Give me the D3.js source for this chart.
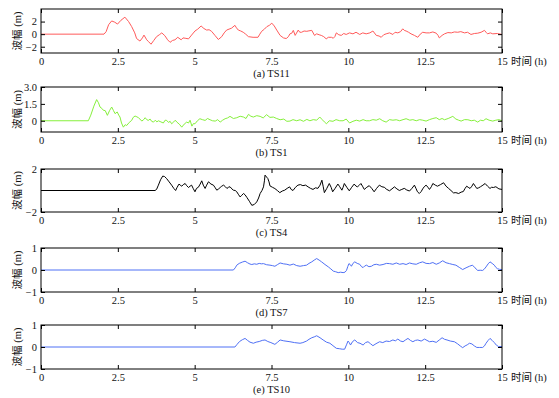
<!DOCTYPE html>
<html>
<head>
<meta charset="utf-8">
<script src="https://cdn.jsdelivr.net/npm/d3@7"></script>
<style>
    body { margin: 0; background: #fff; }
    text { font-family: "Liberation Serif", "Times New Roman", "Noto Sans CJK SC", serif; }
</style>
</head>
<body>
<svg id="chart" width="559" height="398"></svg>
<script>
// time axis ticks (h)
var timeTicks = [0, 2.5, 5, 7.5, 10, 12.5, 15];

// wave amplitude (m) vs time (h)
var ts11 = [[0,0],[2.05,0],[2.12,0.4],[2.2,1.5],[2.3,2.1],[2.4,1.9],[2.49,1.6],[2.6,2.2],[2.73,2.7],[2.85,2.0],
    [2.95,1.2],[3.05,0.2],[3.11,-0.7],[3.22,-1.1],[3.3,-0.6],[3.35,-0.15],[3.44,-0.9],[3.5,-1.2],[3.58,-1.6],
    [3.67,-1.0],[3.76,-0.4],[3.85,-0.1],[3.93,0.2],[4.03,-0.25],[4.12,-0.9],[4.2,-1.3],[4.28,-1.0],[4.36,-0.9],
    [4.45,-0.5],[4.56,-0.9],[4.62,-0.6],[4.69,-0.65],[4.8,-0.75],[4.9,-0.15],[5.01,0.5],[5.1,0.8],[5.21,1.3],
    [5.3,0.9],[5.39,0.65],[5.47,0.7],[5.55,0.45],[5.66,-0.2],[5.77,-0.85],[5.88,-0.4],[5.96,0.2],[6.04,0.65],
    [6.12,0.8],[6.2,0.95],[6.31,1.4],[6.36,1.0],[6.42,0.65],[6.5,0.5],[6.58,0.3],[6.66,0.0],[6.75,-0.4],
    [6.9,-0.5],[7.06,-0.5],[7.12,0.0],[7.18,0.45],[7.27,0.8],[7.35,1.2],[7.43,1.4],[7.51,1.75],[7.59,1.3],
    [7.67,0.65],[7.78,-0.2],[7.89,-0.6],[7.98,-0.7],[8.05,-0.4],[8.1,0.05],[8.16,0.15],[8.21,0.6],[8.27,-0.2],
    [8.37,0.65],[8.42,0.3],[8.48,0.3],[8.56,0.5],[8.65,0.45],[8.69,0.5],[8.81,0.6],[8.9,-0.2],[8.97,0.05],
    [9.05,-0.1],[9.12,-0.2],[9.2,-0.4],[9.28,-0.75],[9.35,-0.5],[9.45,-0.5],[9.51,-0.65],[9.56,-0.4],[9.61,0.2],
    [9.69,-0.1],[9.77,-0.2],[9.85,0.1],[9.93,-0.05],[10.04,0.2],[10.15,0.05],[10.25,0.3],[10.37,-0.05],
    [10.47,0.2],[10.58,0.05],[10.7,0.2],[10.8,0.5],[10.91,-0.2],[11.0,-0.3],[11.07,-0.5],[11.15,-0.1],
    [11.23,0.05],[11.34,0.2],[11.45,-0.05],[11.52,0.3],[11.61,0.2],[11.7,0.4],[11.77,0.85],[11.82,0.6],
    [11.88,0.5],[11.96,0.3],[12.04,0.05],[12.15,-0.2],[12.26,-0.5],[12.34,0.0],[12.42,0.3],[12.53,0.2],
    [12.64,0.2],[12.75,0.35],[12.86,0.15],[12.92,-0.2],[12.96,-0.6],[13.05,-0.2],[13.13,0.05],[13.24,0.25],
    [13.35,0.2],[13.45,0.35],[13.56,0.3],[13.66,0.4],[13.78,0.2],[13.88,0.3],[13.99,-0.05],[14.1,0.1],
    [14.21,0.15],[14.32,0.3],[14.43,0.6],[14.48,0.3],[14.53,0.05],[14.62,0.2],[14.7,0.05],[14.85,0.1],[15,-0.05]];

var ts1 = [[0,0],[1.54,0],[1.62,0.5],[1.72,1.3],[1.81,1.88],[1.87,1.6],[1.92,1.22],[1.98,1.1],[2.03,0.93],
    [2.09,0.9],[2.16,0.48],[2.23,0.9],[2.3,1.22],[2.36,0.9],[2.41,0.63],[2.48,0.78],[2.53,0.5],[2.57,0.33],
    [2.62,-0.2],[2.68,-0.57],[2.74,-0.35],[2.79,-0.42],[2.87,-0.15],[2.95,0.03],[3.0,0.3],[3.06,0.42],
    [3.12,0.35],[3.17,0.27],[3.22,0.15],[3.28,-0.03],[3.34,0.1],[3.39,0.27],[3.44,0.1],[3.49,0.03],[3.55,0.15],
    [3.6,-0.05],[3.66,-0.12],[3.72,0.05],[3.77,-0.1],[3.82,0.0],[3.9,-0.1],[3.98,-0.2],[4.04,0.05],[4.09,0.03],
    [4.15,-0.15],[4.2,-0.05],[4.25,-0.27],[4.32,-0.1],[4.37,0.05],[4.42,-0.12],[4.5,-0.3],[4.58,-0.57],
    [4.66,-0.3],[4.74,-0.12],[4.8,-0.2],[4.85,0.05],[4.91,-0.48],[4.96,-0.25],[5.01,-0.27],[5.09,0.0],
    [5.17,0.18],[5.25,0.1],[5.34,0.03],[5.42,0.2],[5.5,0.09],[5.58,0.0],[5.67,-0.03],[5.75,0.1],[5.83,-0.12],
    [5.91,0.05],[5.99,0.18],[6.07,0.25],[6.15,0.39],[6.26,0.2],[6.37,0.27],[6.48,0.4],[6.59,0.33],[6.67,0.2],
    [6.75,0.57],[6.83,0.4],[6.91,0.33],[7.02,0.45],[7.13,0.39],[7.23,0.25],[7.34,0.54],[7.45,0.3],[7.56,0.33],
    [7.67,0.2],[7.78,0.09],[7.9,0.15],[8.0,-0.05],[8.1,-0.03],[8.2,0.1],[8.32,0.0],[8.43,0.09],[8.54,-0.05],
    [8.65,0.12],[8.75,0.0],[8.86,0.1],[8.97,0.05],[9.07,0.33],[9.15,0.1],[9.22,-0.1],[9.29,-0.27],[9.38,0.0],
    [9.5,-0.05],[9.6,0.1],[9.72,0.0],[9.83,0.0],[9.93,0.15],[10.04,-0.2],[10.15,-0.05],[10.26,0.05],
    [10.37,-0.03],[10.48,0.1],[10.58,0.0],[10.69,0.0],[10.8,0.1],[10.91,0.05],[11.02,0.18],[11.12,0.0],
    [11.23,-0.12],[11.34,0.1],[11.45,0.05],[11.56,0.09],[11.67,0.0],[11.78,0.1],[11.88,0.18],[12.0,0.05],
    [12.1,0.1],[12.21,0.0],[12.32,0.1],[12.42,0.05],[12.53,-0.03],[12.64,0.1],[12.75,0.2],[12.86,0.27],
    [12.96,0.1],[13.05,0.2],[13.13,0.09],[13.25,0.2],[13.4,0.39],[13.5,0.15],[13.59,0.05],[13.67,-0.03],
    [13.78,0.1],[13.89,0.09],[14.0,0.0],[14.1,0.05],[14.21,-0.12],[14.3,0.05],[14.39,0.0],[14.48,0.18],
    [14.58,0.05],[14.7,-0.03],[14.8,0.05],[14.9,0.1],[15,0.0]];

var ts4 = [[0,0],[3.71,0],[3.76,0.1],[3.82,0.5],[3.89,1.0],[3.96,1.34],[4.02,1.3],[4.09,1.1],[4.17,0.8],
    [4.25,0.5],[4.32,0.2],[4.38,0.0],[4.43,0.3],[4.49,0.6],[4.53,0.5],[4.58,0.4],[4.63,0.55],[4.69,0.65],
    [4.74,0.45],[4.8,0.28],[4.85,0.4],[4.9,0.5],[4.95,0.2],[5.01,-0.12],[5.06,0.2],[5.12,0.3],[5.18,0.6],
    [5.23,0.9],[5.28,0.5],[5.34,0.19],[5.39,0.5],[5.45,0.81],[5.53,0.6],[5.61,0.5],[5.67,0.25],[5.72,0.03],
    [5.78,0.15],[5.83,0.28],[5.88,0.4],[5.94,0.5],[6.0,0.35],[6.05,0.19],[6.1,0.3],[6.15,0.35],[6.21,0.15],
    [6.26,0.03],[6.32,0.0],[6.37,-0.12],[6.42,-0.35],[6.48,-0.6],[6.53,-0.45],[6.59,-0.28],[6.64,-0.4],
    [6.7,-0.65],[6.78,-1.0],[6.86,-1.38],[6.94,-1.3],[7.02,-1.06],[7.08,-0.7],[7.13,-0.28],[7.19,0.0],
    [7.24,0.34],[7.27,0.9],[7.29,1.43],[7.34,1.25],[7.38,1.12],[7.42,0.8],[7.45,0.43],[7.53,0.3],[7.61,0.18],
    [7.69,0.0],[7.77,-0.2],[7.85,-0.05],[7.93,0.03],[8.01,0.2],[8.09,0.34],[8.14,0.1],[8.2,0.0],[8.28,0.3],
    [8.36,0.5],[8.44,0.55],[8.52,0.45],[8.61,0.5],[8.69,0.34],[8.77,0.2],[8.85,0.1],[8.93,0.25],[9.01,0.2],
    [9.08,0.5],[9.14,0.96],[9.18,0.4],[9.22,-0.2],[9.3,0.2],[9.38,0.65],[9.44,0.3],[9.49,-0.12],[9.57,0.2],
    [9.66,0.6],[9.72,0.35],[9.79,0.03],[9.83,0.3],[9.87,0.65],[9.95,0.3],[10.03,-0.03],[10.11,0.3],
    [10.19,0.6],[10.25,0.4],[10.3,0.35],[10.36,0.5],[10.41,0.65],[10.46,0.4],[10.52,0.1],[10.6,0.3],
    [10.68,0.45],[10.76,0.2],[10.84,-0.12],[10.92,0.2],[11.01,0.5],[11.09,0.35],[11.17,0.3],[11.25,0.1],
    [11.34,-0.03],[11.42,0.15],[11.5,0.34],[11.58,0.15],[11.66,0.0],[11.74,0.1],[11.82,0.2],[11.9,0.05],
    [11.99,-0.05],[12.07,0.2],[12.15,0.5],[12.2,0.2],[12.25,-0.12],[12.31,-0.28],[12.37,-0.1],[12.42,0.15],
    [12.47,0.35],[12.53,0.5],[12.59,0.3],[12.64,0.1],[12.7,0.35],[12.75,0.65],[12.83,0.5],[12.9,0.4],
    [13.0,0.55],[13.1,0.72],[13.18,0.4],[13.26,0.2],[13.34,0.0],[13.42,-0.22],[13.5,-0.2],[13.59,-0.28],
    [13.67,-0.15],[13.74,-0.1],[13.8,0.2],[13.85,0.4],[13.9,0.3],[13.96,0.19],[14.02,0.4],[14.07,0.65],
    [14.13,0.4],[14.18,0.19],[14.24,0.25],[14.3,0.35],[14.38,0.5],[14.45,0.65],[14.53,0.4],[14.61,0.19],
    [14.66,0.3],[14.72,0.28],[14.8,0.35],[14.9,0.15],[15,0.1]];

var ts7 = [[0,0],[6.26,0],[6.32,0.1],[6.37,0.22],[6.45,0.3],[6.55,0.36],[6.64,0.4],[6.72,0.33],[6.8,0.27],
    [6.86,0.25],[6.94,0.28],[7.02,0.26],[7.1,0.3],[7.17,0.28],[7.24,0.29],[7.34,0.24],[7.45,0.22],
    [7.53,0.2],[7.61,0.17],[7.7,0.25],[7.78,0.32],[7.89,0.28],[8.0,0.26],[8.1,0.22],[8.21,0.27],[8.32,0.2],
    [8.43,0.17],[8.54,0.2],[8.64,0.22],[8.72,0.3],[8.81,0.37],[8.89,0.45],[8.97,0.52],[9.05,0.45],
    [9.13,0.37],[9.24,0.25],[9.35,0.14],[9.43,0.05],[9.51,-0.05],[9.59,-0.08],[9.67,-0.12],[9.75,-0.1],
    [9.83,-0.12],[9.89,-0.1],[9.94,-0.02],[9.98,0.15],[10.02,0.29],[10.06,0.25],[10.1,0.17],[10.15,0.3],
    [10.21,0.37],[10.29,0.3],[10.37,0.26],[10.43,0.15],[10.48,0.11],[10.53,0.18],[10.59,0.22],[10.67,0.15],
    [10.75,0.17],[10.83,0.24],[10.91,0.26],[11.02,0.22],[11.13,0.25],[11.24,0.3],[11.34,0.29],[11.45,0.26],
    [11.56,0.32],[11.67,0.26],[11.78,0.29],[11.88,0.25],[11.99,0.32],[12.1,0.28],[12.21,0.26],[12.32,0.33],
    [12.42,0.37],[12.53,0.3],[12.64,0.29],[12.75,0.34],[12.86,0.26],[12.96,0.32],[13.07,0.42],[13.18,0.33],
    [13.29,0.29],[13.4,0.25],[13.5,0.22],[13.61,0.12],[13.72,0.02],[13.83,0.1],[13.94,0.17],[14.04,0.22],
    [14.12,0.1],[14.21,-0.02],[14.29,-0.01],[14.37,-0.02],[14.43,0.05],[14.48,0.14],[14.55,0.28],
    [14.61,0.37],[14.68,0.3],[14.75,0.22],[14.8,0.12],[14.85,0.06],[14.92,0.03],[15,0.02]];

var ts10 = [[0,0],[6.31,0],[6.38,0.12],[6.46,0.25],[6.55,0.33],[6.64,0.39],[6.72,0.3],[6.8,0.22],
    [6.91,0.17],[7.0,0.22],[7.1,0.25],[7.2,0.3],[7.29,0.32],[7.38,0.25],[7.48,0.2],[7.61,0.12],[7.7,0.22],
    [7.78,0.32],[7.9,0.28],[8.1,0.24],[8.25,0.2],[8.43,0.17],[8.52,0.2],[8.64,0.27],[8.72,0.35],[8.81,0.42],
    [8.89,0.46],[8.97,0.51],[9.08,0.42],[9.18,0.32],[9.29,0.22],[9.4,0.17],[9.5,0.06],[9.61,-0.06],
    [9.72,-0.08],[9.8,-0.1],[9.88,-0.1],[9.94,0.1],[9.99,0.27],[10.03,0.2],[10.07,0.09],[10.14,0.25],
    [10.21,0.32],[10.3,0.2],[10.38,0.17],[10.48,0.09],[10.56,0.2],[10.64,0.24],[10.72,0.15],[10.8,0.06],
    [10.9,0.15],[11.02,0.24],[11.12,0.2],[11.23,0.27],[11.34,0.25],[11.45,0.32],[11.53,0.28],[11.61,0.36],
    [11.7,0.27],[11.78,0.24],[11.86,0.32],[11.94,0.39],[12.02,0.3],[12.1,0.24],[12.18,0.3],[12.26,0.32],
    [12.37,0.27],[12.48,0.36],[12.56,0.3],[12.64,0.24],[12.75,0.26],[12.86,0.21],[12.96,0.32],
    [13.05,0.42],[13.13,0.35],[13.21,0.32],[13.32,0.27],[13.45,0.24],[13.55,0.15],[13.64,0.05],
    [13.72,-0.03],[13.8,0.05],[13.87,0.1],[13.94,0.17],[14.02,0.14],[14.1,0.05],[14.18,-0.02],[14.26,-0.02],
    [14.37,-0.02],[14.43,0.05],[14.48,0.17],[14.55,0.3],[14.61,0.39],[14.68,0.3],[14.75,0.2],[14.82,0.08],
    [14.89,0.02],[15,0.02]];

var panelTitles = ["(a) TS11", "(b) TS1", "(c) TS4", "(d) TS7", "(e) TS10"];
var yDomains = [[-3, 4], [-1, 3], [-2, 2], [-1, 1], [-1, 1]];
var yTickVals = [[-2, 0, 2], [0, 1.5, 3], [-2, 2], [-1, 0, 1], [-1, 0, 1]];
var yTickLabels = [["\u22122", "0", "2"], ["0", "1.5", "3.0"], ["\u22122", "2"], ["\u22121", "0", "1"], ["\u22121", "0", "1"]];
var seriesList = [ts11, ts1, ts4, ts7, ts10];
var colors = ["#ff5a5a", "#86f03c", "#000000", "#4f70f5", "#4f70f5"];

var svg = d3.select("#chart");
var left = 41, right = 502;
var tops = [9, 87, 169, 248, 325];
var heights = [44, 45, 43, 44, 44];
var fontSize = 10.5;

var xScale = d3.scaleLinear().domain([0, 15]).range([left, right]);

function drawPanel(i) {
    var top = tops[i], bottom = tops[i] + heights[i];
    var yScale = d3.scaleLinear().domain(yDomains[i]).range([bottom, top]);
    var g = svg.append("g").attr("class", "panel" + i);

    // clip so lines stay inside the box
    svg.append("clipPath").attr("id", "clip" + i)
        .append("rect")
        .attr("x", left).attr("y", top)
        .attr("width", right - left).attr("height", bottom - top);

    var line = d3.line()
        .x(d => xScale(d[0]))
        .y(d => yScale(d[1]));

    g.append("path")
        .attr("clip-path", "url(#clip" + i + ")")
        .attr("fill", "none")
        .attr("stroke", colors[i])
        .attr("stroke-width", 1)
        .attr("stroke-linejoin", "round")
        .attr("d", line(seriesList[i]));

    // bottom axis with labels, inward ticks
    g.append("g")
        .attr("class", "xAxisBottom")
        .attr("transform", "translate(0," + bottom + ")")
        .call(d3.axisBottom(xScale).tickValues(timeTicks).tickSizeInner(-4).tickSizeOuter(0)
            .tickFormat(d3.format("")))
        .call(a => a.select(".domain").remove());
    // top axis, no labels
    g.append("g")
        .attr("transform", "translate(0," + top + ")")
        .call(d3.axisTop(xScale).tickValues(timeTicks).tickSizeInner(-4).tickSizeOuter(0).tickFormat(""))
        .call(a => a.select(".domain").remove());

    // left axis with labels
    g.append("g")
        .attr("class", "yAxisLeft")
        .attr("transform", "translate(" + left + ",0)")
        .call(d3.axisLeft(yScale).tickValues(yTickVals[i]).tickSizeInner(-4).tickSizeOuter(0)
            .tickFormat((d, k) => yTickLabels[i][k]))
        .call(a => a.select(".domain").remove());
    // right axis, no labels
    g.append("g")
        .attr("transform", "translate(" + right + ",0)")
        .call(d3.axisRight(yScale).tickValues(yTickVals[i]).tickSizeInner(-4).tickSizeOuter(0).tickFormat(""))
        .call(a => a.select(".domain").remove());

    g.selectAll(".tick line").attr("stroke", "#000").attr("stroke-width", 1);
    g.selectAll(".tick text")
        .attr("fill", "#111")
        .style("font-family", "'Liberation Serif', serif")
        .style("font-size", fontSize + "px");
    g.selectAll(".xAxisBottom .tick text").attr("y", 12).attr("dy", null);
    g.selectAll(".yAxisLeft .tick text").attr("x", -4);

    // box
    g.append("rect")
        .attr("x", left).attr("y", top)
        .attr("width", right - left).attr("height", bottom - top)
        .attr("fill", "none")
        .attr("stroke", "#000")
        .attr("stroke-width", 1);

    // x axis name after the last tick label
    g.append("text")
        .attr("x", right + 9)
        .attr("y", bottom + 12)
        .attr("font-size", fontSize)
        .attr("fill", "#111")
        .text("时间 (h)");

    // panel title
    g.append("text")
        .attr("x", (left + right) / 2)
        .attr("y", bottom + 24)
        .attr("text-anchor", "middle")
        .attr("font-size", fontSize)
        .attr("fill", "#111")
        .text(panelTitles[i]);

    // y label
    g.append("text")
        .attr("text-anchor", "middle")
        .attr("transform", "translate(21," + ((top + bottom) / 2) + ") rotate(-90)")
        .attr("font-size", fontSize)
        .attr("fill", "#111")
        .text("波幅 (m)");
}

for (var i = 0; i < 5; i++) drawPanel(i);
</script>
</body>
</html>
